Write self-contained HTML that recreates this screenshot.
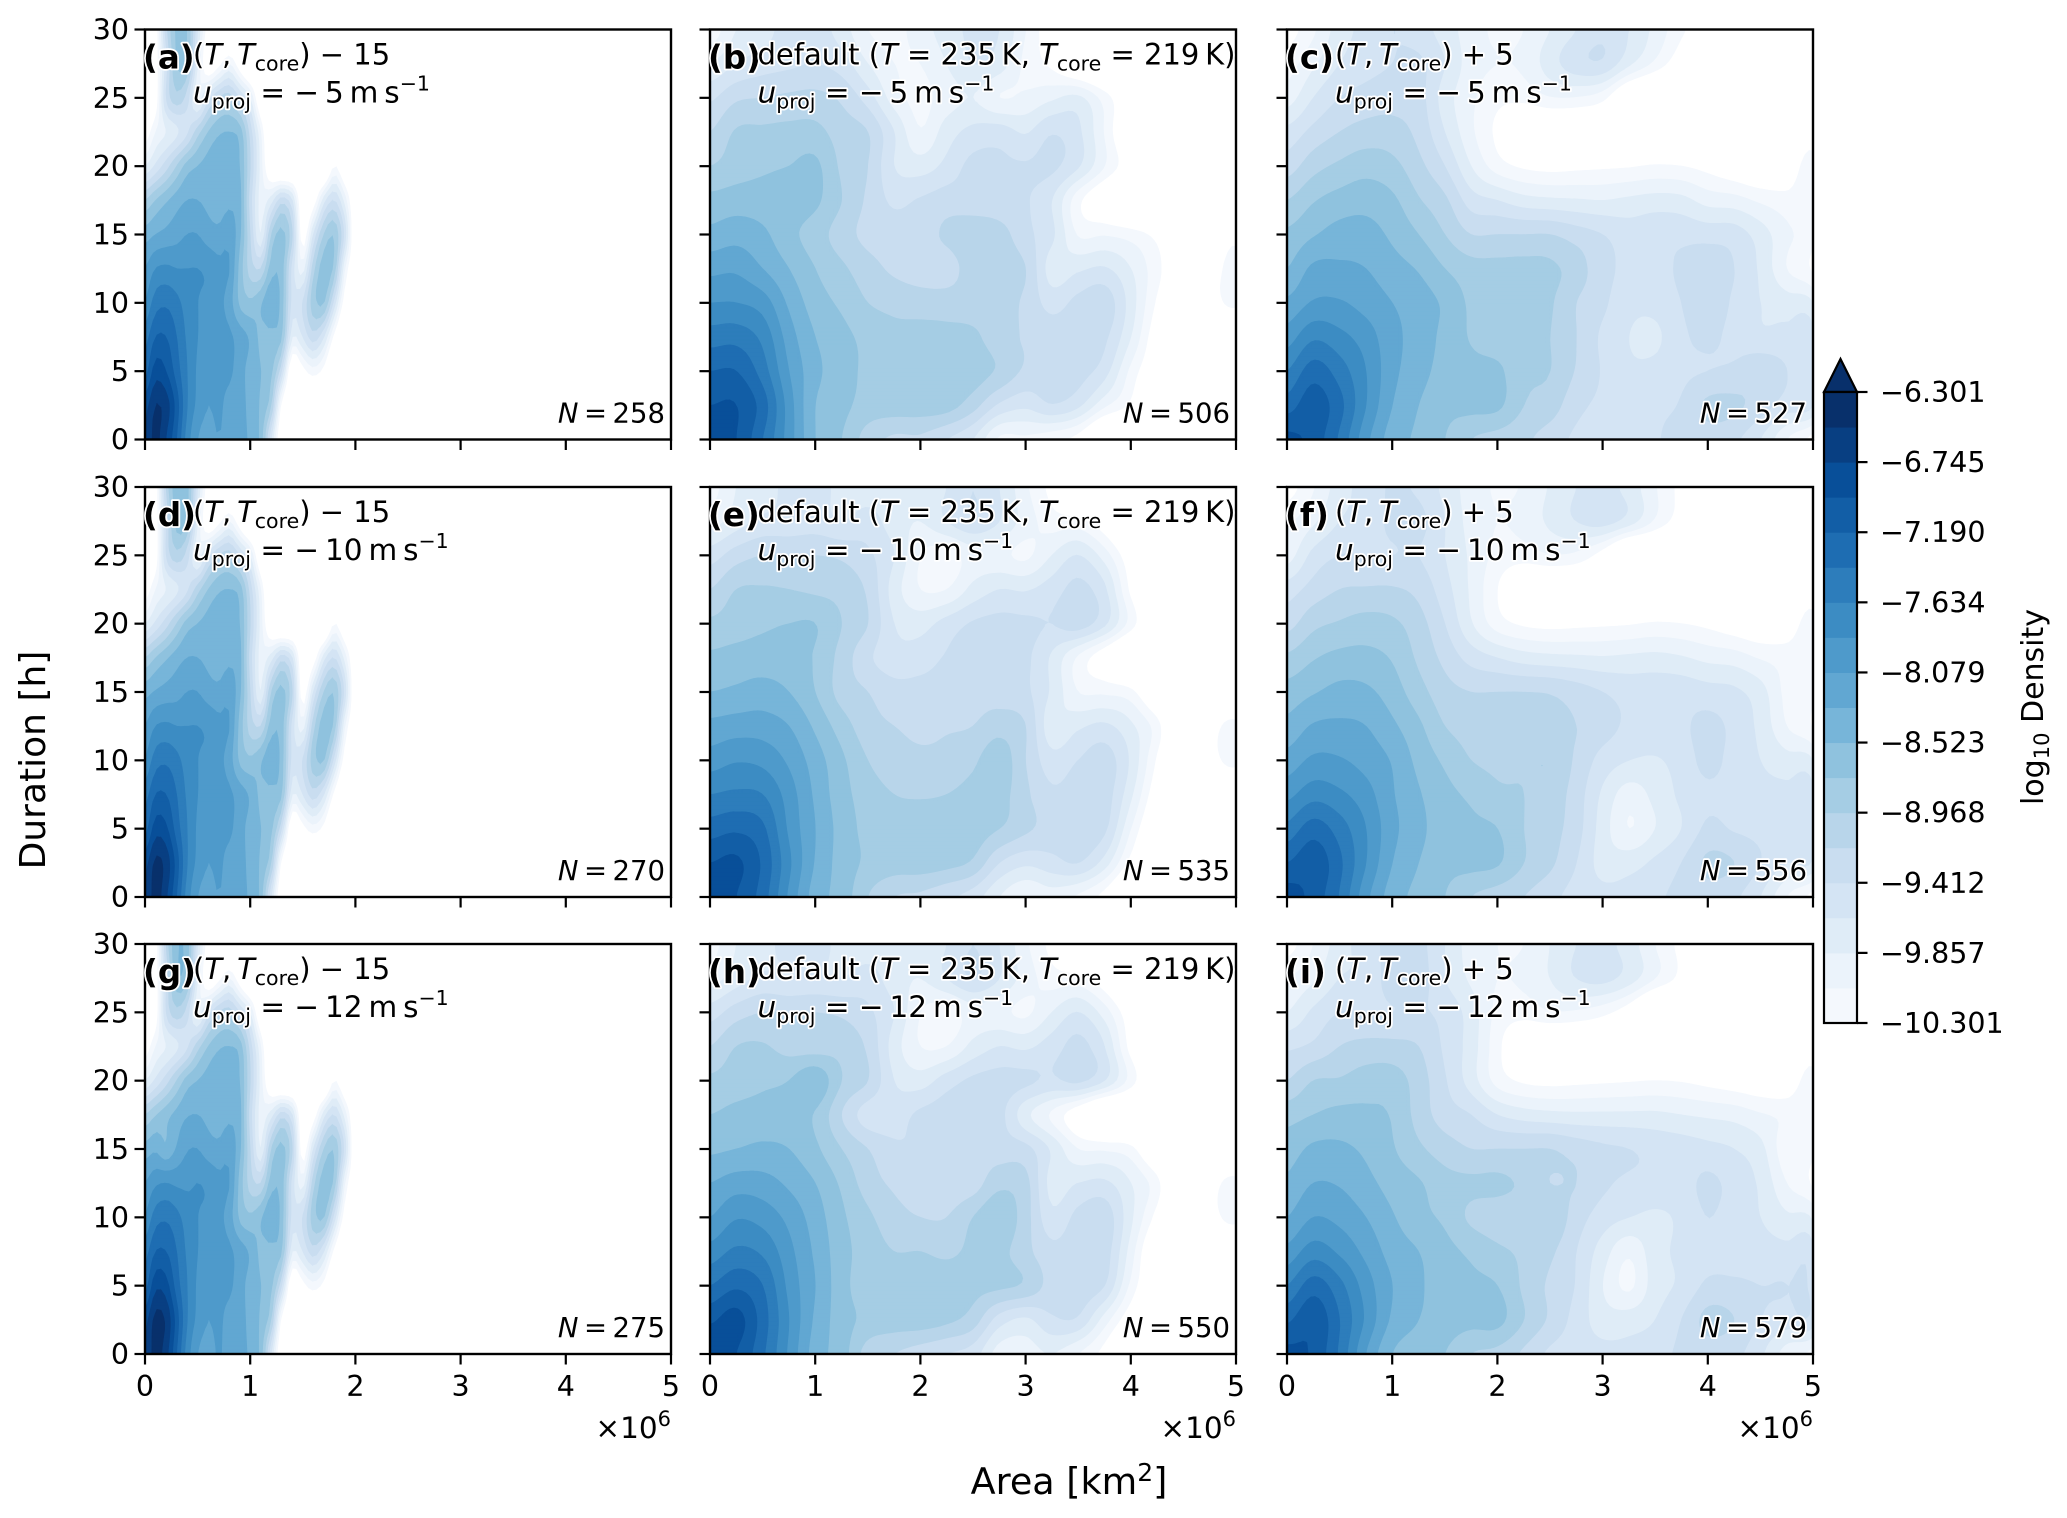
<!DOCTYPE html>
<html lang="en">
<head>
<meta charset="utf-8">
<title>Density of duration vs area</title>
<style>
html,body{margin:0;padding:0;background:#fff}
svg{display:block;font-family:"DejaVu Sans","Liberation Sans",sans-serif;fill:#000}
.halo{paint-order:stroke;stroke:#fff;stroke-width:3.5px;stroke-linejoin:round}
</style>
</head>
<body>
<svg id="figure" xmlns="http://www.w3.org/2000/svg" width="2067" height="1518" viewBox="0 0 2067 1518">
<rect width="2067" height="1518" fill="#fff"/>
<text transform="translate(45,760) rotate(-90)" text-anchor="middle" font-size="36">Duration [h]</text>
<text x="1069" y="1494" text-anchor="middle" font-size="36.5">Area [km<tspan font-size="25" dy="-13">2</tspan><tspan dy="13">]</tspan></text>
<text transform="translate(2043,707) rotate(-90)" text-anchor="middle" font-size="30">log<tspan font-size="21" dy="6">10</tspan><tspan dy="-6"> Density</tspan></text>
</svg>
<script>
// Tick labels and categories
const areaTicks = [0, 1, 2, 3, 4, 5];
const durationTicks = [0, 5, 10, 15, 20, 25, 30];
const colorbarTicks = ['−10.301', '−9.857', '−9.412', '−8.968', '−8.523', '−8.079', '−7.634', '−7.190', '−6.745', '−6.301'];
const bandColors = ['#f4f8fd','#ebf3fb','#dfecf7','#d4e4f4','#c9ddf0','#b8d5ea','#a5cde4','#8fc2de','#77b5d9','#61a7d2','#4e9acb','#3c8cc3','#2d7dbb','#1e6db2','#125ea6','#084f99','#083f82','#08306b'];
const panelLetters = ['(a)','(b)','(c)','(d)','(e)','(f)','(g)','(h)','(i)'];
const panelCounts = [258, 506, 527, 270, 535, 556, 275, 550, 579];
const rowSpeeds = [5, 10, 12];

// Field values: density in contour-band units above log10 = -10.301.
// Each grid row is one duration (0, 2.5, ... 30 h), each entry one area step.
const gridAreaStepNarrow = 0.1;
const gridAreaStepWide = 0.25;
const gridDurationStep = 2.5;

const fieldA = [
[16,17.3,16,14,11.5,10,9.5,10,9.5,9.3,8.8,7.6,3,-2],
[15.5,17,16.5,14.5,12,10.7,10,10.2,9.6,9.3,8.7,7.8,6,-.5,-3],
[13.5,15.5,15,13.5,12,10.8,10.1,10.2,10.2,9.4,8.6,8,7.2,4,-2,-.5,.5,-.5],
[12.5,14,14,13,11.8,11,10.5,10.4,10.2,9.5,8.8,7.7,7.7,7,2,3,4.5,3,-.5],
[11,12.5,12.8,12.3,11.5,11,10.8,10.3,9.5,7.8,7.2,7.8,8.8,7.5,3.5,4,6.5,7,3.5,-1],
[10,11,11.2,11,11,11,10.8,10.3,10,7.6,5.5,5,7.5,7.5,3.5,1.5,5.5,7.5,6.5,1,-2],
[8.5,9,9.3,9.6,10,10,9.5,9.3,9.7,8.2,5,2,6,7.3,5,-1,3,6,6.8,3.5,-2],
[6,7,7.8,8.5,9,9,8.7,8.4,8.8,8.3,4.5,1.5,2.5,4.5,3,-2,-1,2.5,4,1.5,-2],
[2,3.2,4.5,6,7.4,8,8.4,8.6,8.9,8,5,1.5,-2,-3,-3,-3,-3,-3,0,-2],
[-1,1,2,2.8,3.8,5.5,7,7.8,8,7.5,4.5,1],
[-3,-1,4,5.6,4.5,1.5,3.5,5,5.5,4,2,-2],
[-3,-1,3.5,7,6.8,2,-1.5,-.5,1,-1],
[-3,-1,4.5,7.2,7,3,-1]
];
const fieldB = [
[15.5,15,13,10.5,8,7,5.5,4.8,4.8,4,3,.8,.8,.3,-.5],
[15,15,13.5,10.5,8,7.3,6.6,6.5,6.5,6.4,5.4,3.8,3.2,3.9,3.2,1.2,-.3],
[14,14,12.5,10,8.3,7.4,6.8,6.5,6.5,6.5,6.5,5.8,4.8,4.5,4.4,3.4,.7,-1.5],
[12.5,12.6,11.7,9.5,8,7.3,6.7,6.3,6.4,6.3,6.2,5.4,4.9,4.6,4.6,4.2,2,-1],
[11,11,10.5,8.8,7.5,6.8,6,5.7,5.5,5.5,5.5,5.4,4.8,3.6,4.3,4.6,2.5,-.2,-2,-1,.3],
[9.7,9.8,9,8,7,6.2,5.4,4.8,4.5,4.5,5.5,5.5,5,2.5,2.8,3.1,2,.3,-1.5,-1,.5],
[8.3,8.6,8.2,7.3,6.5,5.5,4.7,4.5,4.5,5.2,5.7,5.4,4.3,3.2,.9,.9,.5,-.4,-2,-2,-.5],
[7.3,7.5,7.5,7.5,7.2,6,4.8,3.8,4.1,4.5,4.4,4.3,4.1,3,.3,-1.5],
[6,6.5,6.8,7,7.2,5.8,5,3,2.5,3.3,4.3,4.2,4.1,4.2,3.1,1,-1],
[5,6.1,6.2,6.3,6.3,5.5,5,3,1.1,2.5,3.3,3.5,2.9,3.9,3.2,.9,-2],
[3.8,4.8,5,5.2,5.3,4.8,3.5,1.5,.7,1.5,2,1,1.2,1.8,2.2,.5,-1.5],
[2,3,3.5,3.8,4,3.5,2,1,1,2,3,2.5,.7,-.3,-2],
[.3,2,2.5,3.5,3.5,2.5,1,.7,1.5,2.5,3.2,3,1,-1]
];
const fieldC = [
[15.3,14.6,12.8,10.3,8.5,7.8,7,6,5.6,5.2,4.5,3.8,3.5,3.6,3.9,4.4,4.6,4.2,3,1,-.5],
[13.5,14.6,13.3,11,9,8,7.3,7.3,7.2,6,5.5,4.3,3.8,3.7,3.8,4.1,5.2,5.2,4.5,3.5,3],
[12,13.5,12.5,11,9.3,8.4,7.6,7.3,7.2,6.2,6,4.9,3.9,3.2,3.3,3.8,4,4.2,4.8,4,3],
[10.5,11.8,11.3,10.5,9.3,8.6,7.7,6.9,6.4,6.2,6,5,3.8,3,2.8,3.8,4.2,3.7,3.2,3.3,3.3],
[9.2,10.1,10.1,9.6,9,8.5,7.8,6.8,6.4,6.2,6.1,5,4.2,3.3,3.3,4,4.7,3.8,3,2.5,2],
[8,9.2,9.2,9,8.4,7.9,7,6.4,6.3,6.3,6.2,5.5,4.3,3.8,3.6,4.2,4.7,4,2.8,1,-.2],
[7.2,7.9,8.4,8.4,7.8,7,6,5,5,5,5,4.5,4,3.5,3.7,3.7,3.6,3.5,2.5,1.2,.3],
[6,6.9,7.4,7.6,7.2,6.1,5.2,3.5,3,2.4,2.2,2.1,2,2.2,2.4,2.3,1.6,1.4,.8,.4,.5],
[4.5,5.6,6.2,6.6,6.3,5.3,4,2,.5,-.2,-.4,-.3,-.2,-.1,.1,0,-.4,-1,-1.5,-1.2,.6],
[3.3,4.3,5,5.4,5.4,4.7,3,1.2,-.3,-2,-2,-2,-2,-2,-2,-2,-2,-2,-2,-2,-1],
[1.5,3,4,4.4,4.6,4.4,2.5,1.2,.3,.3,.9,.9,.3,-2],
[.5,1.8,3,3.6,4,4.2,3,1.5,1,1.2,2.5,3.6,3.8,2.2,.7,-1],
[-.5,.8,2.5,3.3,4,3.5,2.5,1.5,.8,1,2,3,3.8,3,1.7,.2,-1]
];
const fieldD = [
[16,17.4,16.2,14,11.5,10,9.5,10,9.5,9.3,8.8,7.6,3,-2],
[15.5,17.2,16.6,14.5,12,10.7,10,10.2,9.6,9.3,8.7,7.8,6,-.5,-3],
[13.5,15.5,15.2,13.5,12,10.8,10.1,10.2,10.2,9.4,8.6,8,7.2,4,-2,-.5,.5,-.5],
[12.5,14,14,13,11.8,11,10.5,10.4,10.2,9.5,8.8,7.7,7.7,7,2,3,4.5,3,-.5],
[11,12.5,12.8,12.3,11.5,11,10.8,10.3,9.5,7.8,7.2,7.8,8.7,7.5,3.5,4,6.5,7,3.5,-1],
[10,11,11.2,11,11,11,10.8,10.3,10,7.6,5.5,5,7.5,7.5,3.5,1.5,5.5,7.5,6.5,1,-2],
[8.6,9.1,9.4,9.6,10,10,9.5,9.3,9.7,8.2,5,2,6,7.3,5,-1,3,6,6.8,3.5,-2],
[6,7,7.8,8.5,9,9,8.7,8.4,8.8,8.3,4.5,1.5,2.5,4.5,3,-2,-1,2.5,4,1.5,-2],
[2,3.2,4.5,6,7.4,8,8.4,8.6,8.9,8,5,1.5,-2,-3,-3,-3,-3,-3,0,-2],
[-1,1,2,2.8,3.8,5.5,7,7.8,8,7.5,4.5,1],
[-3,-1,4,5.6,4.5,1.5,3.5,5,5.5,4,2,-2],
[-3,-1,4,7.4,7,2,-1.5,-.5,1,-1],
[-3,-1,5,7.6,7.4,3,-1]
];
const fieldE = [
[15.8,15,13.5,10.8,8.5,7.6,6,5,4.8,4.2,3.5,2,1,1.5,.8,-.5],
[15,15.2,13.8,11.2,8.9,7.6,6.8,6.5,6.5,6.3,5.8,4,3.2,3.6,4,2.5,-.5],
[13.5,13.8,13.2,10.8,9,7.6,6.7,6.5,6.5,6.5,6.5,6,5.2,4.6,4.6,4.2,1,-2],
[12,12.2,12,10.5,8.8,7.4,6.5,6,5.9,6,6.3,6.4,5.2,4.2,4.5,4.5,2.2,-1],
[10.5,10.9,10.7,9.8,8.5,7.2,6,5.4,5.2,5.3,5.8,6.6,5,3.4,4,4.5,2.8,-.2,-3,-1,.5],
[9.3,9.5,9.5,9,7.8,6.5,5.4,5,4.8,4.9,5,5.6,5,2.3,2.8,3.2,2.2,.4,-3,-1,.5],
[8,8.2,8.4,8,7,5.6,5,4.4,4.4,4.5,4.6,4.5,4.2,2.8,1,.8,.3,-2],
[7.2,7.4,7.5,7.4,6.9,5.6,4.2,3.4,3.5,4.1,4.4,4.4,4.2,2.8,.8,-1],
[6.2,6.5,6.8,7,7,6,5,3,2.6,3.4,4.1,4.3,4.2,4,4.5,3.2,.5,-2],
[5,6,6.1,6,5.8,5.6,4.8,2.5,1,1,2.3,3,2.9,3.5,4.3,3.2,-.3],
[3.5,4.5,5,5,5,4.8,4.2,3,1,.5,1.5,1.3,.8,2,3,1.5,-1],
[1.5,2.5,3.2,3.3,3.5,3,3.4,2.5,2,3,3.8,3,1.5,.5,.3,-1],
[.5,2,2.5,3.3,3.7,2.5,2.5,2.5,2.5,3,4,3,1.2,-.5]
];
const fieldF = [
[15.5,14.6,12.9,10.3,8.5,7.7,7,6,5.5,5,4.3,3.6,3.3,3.4,3.8,4.3,4.6,4.2,3,1,-.5],
[14,14.7,13.2,11,9,8,7.3,7.3,7.1,6,5.2,4,2.6,2.6,3.2,4,5.2,5,4,3,2.8],
[12.3,13.5,12.5,11,9.3,8.3,7.4,7.2,7,6,5.4,4.4,2.5,1,2,3,4.2,3.9,3.7,3.6,3.3],
[10.7,11.6,11.2,10.4,9.1,8.1,7.3,6.8,6.2,6,5.6,4.5,2.8,1.5,2.3,3.2,3.8,3.6,3.3,3.3,3.3],
[9.4,10.2,10.1,9.6,8.9,7.7,6.8,6,5.8,5.9,5.9,4.8,3.6,3,2.9,3.4,4.3,3.6,3,2.4,2],
[8.3,9.1,9.2,9,8.2,7.2,6,5.6,5.6,5.6,5.2,5,4.4,3.8,3.6,3.8,4.3,3.7,2.7,1,-.1],
[7.4,7.9,8.3,8.2,7.5,6.4,5.4,5,5,5,4.9,4.5,4,3.6,3.6,3.6,3.4,3.2,2.4,.7,.3],
[6.2,6.9,7.3,7.3,6.9,5.8,4.7,3.6,3,2.5,2.3,2.2,2.1,2.2,2.3,2.1,1.7,1.5,.9,.6,.6],
[4.6,5.7,6.1,6.4,6.2,5.4,4,2.1,.5,-.2,-.4,-.3,-.2,-.1,.1,0,-.3,-.8,-1.2,-1,.5],
[3.5,4.4,5,5.1,5.1,4.7,3.4,1.8,0,-1.8,-2,-2,-2,-2,-2,-2,-2,-2,-2,-2,-1],
[1.5,3.3,4,4,4,4,3,1.8,.7,.5,.9,.7,-.6,-3],
[.8,1.8,3,3.4,4.2,4.3,3,1.6,1,1.3,2.2,3,3.4,2.5,.8,-.8],
[-.5,.9,2.5,3.4,4.1,3.8,2.7,1.5,.9,1.1,2.1,3,3.4,2.6,1.1,-.5]
];
const fieldG = [
[16,17.4,16.4,14,11.5,10,9.5,10.1,9.5,9.3,8.8,7.6,3,-2],
[15.5,17.3,16.8,14.5,12,10.7,10,10.2,9.6,9.3,8.7,7.8,6,-.5,-3],
[13.5,15.7,15.4,13.5,12,10.8,10.1,10.2,10.2,9.4,8.6,8,7.2,4,-2,-.5,.5,-.5],
[12.5,14,14,13,11.8,11,10.5,10.4,10.2,9.5,8.8,7.7,7.7,7,2,3,4.5,3,-.5],
[11,12.5,12.8,12.3,11.5,11,10.8,10.3,9.5,7.8,7.2,7.8,8.8,7.5,3.5,4,6.5,7,3.5,-1],
[10,10.8,11,10.8,10.8,11,10.8,10.3,10,7.6,5.5,5,7.5,7.5,3.5,1.5,5.5,7.5,6.5,1,-2],
[8.4,8.8,8.2,9.1,9.9,10,9.5,9.3,9.7,8.2,5,2,6,7.3,5,-1,3,6,6.8,3.5,-2],
[6,6.9,7.6,8.3,8.9,9,8.7,8.4,8.8,8.3,4.5,1.5,2.5,4.5,3,-2,-1,2.5,4,1.5,-2],
[2,3.2,4.5,6,7.4,8,8.4,8.6,8.9,8,5,1.5,-2,-3,-3,-3,-3,-3,0,-2],
[-1,1,2,2.8,3.8,5.5,7,7.8,8,7.5,4.5,1],
[-3,-1,4,5.6,4.5,1.5,3.5,5,5.5,4,2,-2],
[-3,-1,4,7.6,7.1,2,-1.5,-.5,1,-1],
[-3,-1,5,7.8,7.5,3,-1]
];
const fieldH = [
[16,15,13.2,10.8,8.5,7.5,5.5,5,4.5,4,3.5,1.5,1.5,2,1,-.5],
[14.8,15.4,13.5,11,8.8,7.5,6.7,6.5,6.5,6.2,5.5,3.5,2.8,3.8,3.8,1.5,-1],
[13,13.8,13,10.7,9,7.4,6.4,6.5,6.5,6.5,6.3,6.2,5.8,4.6,4.6,4,.7,-2],
[11.4,12.2,11.8,10.3,8.8,7.4,6.5,6,6,5.8,6.2,6.3,5.3,4.3,4.6,4.5,1.5,-2],
[10,10.9,10.6,9.7,8.5,7.2,6.2,5.4,5,5,6,6.8,5.4,3.3,4.3,4.6,2.2,-.5,-3,-1,.5],
[9,9.5,9.4,8.8,8,6.8,5.5,4.8,4.4,4.3,4.5,5.7,5.3,2.6,3,3.2,2,.3,-3,-1,.5],
[7.8,8,8.2,8,7.2,6,5,4.2,4.1,4.3,4.5,4.5,4.3,2.8,1,.8,.3,-2],
[7,7.3,7.4,7.3,6.9,5,3.5,3.5,4.2,4.5,4.5,4.3,2.3,.8,-1],
[6.2,6.5,6.8,7,7.8,6,5,3,2.5,3.5,4.2,4.4,4.2,3.8,4.2,3,.5,-2],
[5,6,6.1,5.6,5.5,5.6,4.8,2.5,1,1,2.3,3,2.8,3.5,4.3,3,-.5],
[3.5,4.5,5,5,5,4.8,4.2,3,1,.5,1.5,1.3,.8,2,3,1.5,-1],
[1.5,2.5,3.2,3,3.2,3,3.4,2.5,2,3,4,3,1.5,.5,.3,-1],
[.5,2,2.5,3.5,3.7,2.5,2.5,2.5,2.5,3,4,3,1.2,-.5]
];
const fieldI = [
[15.3,14.8,12.8,10,8,7.5,7,6,5.7,4.8,3.8,3.5,3.3,3.3,3.6,4.2,4.5,4.3,3.2,1.5,.5],
[13.8,14.8,13,10.8,8.8,8,7.5,7.3,7.3,6,4.8,3.6,2.5,2.5,3,4,5.3,5,4,3.5,3.5],
[12,13.5,12.3,10.5,9,8.2,7.3,7.2,7,5.8,4.8,3.9,2,.8,2.5,3.2,4.2,4.2,4,4,3.5],
[10.3,11.5,10.8,9.7,8.6,8,7.3,6.8,6.2,5.8,5.2,4,2.5,1.2,2.6,3.2,3.6,3.5,3.4,3.3,3.3],
[9,10,9.7,9,8.1,7.3,6.8,5.8,5.5,5.5,5.8,4.5,3.5,3,2.8,3.2,4,3.5,3,2.2,1.8],
[8.2,9,8.9,8.3,7.6,7.1,6.4,6.2,6.2,5.8,5,5,4.2,3.8,3.7,3.6,4.2,3.6,2.8,1,-.2],
[7.5,8.2,8.2,7.8,7.1,6.2,5.5,5,5,5,5,4.6,4.2,4,3.7,3.5,3.3,3,2.3,.3,.2],
[6.6,7,7.3,7.2,6.9,5.6,4.5,4,3,2.5,2.3,2.2,2.2,2.2,2.2,2,1.8,1.6,1.1,.8,.7],
[5,6,6.1,6.5,6.5,5.5,4.1,2.5,.6,-.2,-.4,-.3,-.2,-.1,0,-.1,-.4,-.7,-1,-1.1,.5],
[3.8,4.2,5,5.3,5.3,5,3.8,2.5,.3,-1.5,-2,-2,-2,-2,-2,-2,-2,-2,-2,-2,-1],
[2,3.2,4,4,4,4.1,3.7,2.5,.7,.4,.9,.8,.3,-.8],
[1,1.8,3,3.2,4.5,4.5,3,1.8,1,1.2,2,3,3.3,2.5,1,-.5],
[-.5,1,2.5,3.5,4.3,4.3,3,1.5,1,1,2,3,3.3,2.5,1,-.5]
];
const panelFields = [fieldA, fieldB, fieldC, fieldD, fieldE, fieldF, fieldG, fieldH, fieldI];

// Layout
const columnLefts = [145, 710, 1287];
const rowTops = [29.5, 487, 944];
const panelWidth = 526;
const panelHeight = 410;
const areaMax = 5;
const durationMax = 30;
const cellSize = 4;
const fieldFloor = -3;
const svgNS = 'http://www.w3.org/2000/svg';
const figure = document.getElementById('figure');

function make(tag, attrs, parent) {
  const el = document.createElementNS(svgNS, tag);
  for (const key in attrs) el.setAttribute(key, attrs[key]);
  (parent || figure).appendChild(el);
  return el;
}

function xScale(area, left) { return left + area / areaMax * panelWidth; }
function yScale(duration, top) { return top + panelHeight - duration / durationMax * panelHeight; }

function gridValue(grid, col, row) {
  const r = grid[Math.max(0, Math.min(grid.length - 1, row))];
  const c = Math.max(0, col);
  return c < r.length ? r[c] : fieldFloor;
}
function spline(a, b, c, d, t) {
  return 0.5 * (2 * b + (c - a) * t + (2 * a - 5 * b + 4 * c - d) * t * t + (3 * b - a - 3 * c + d) * t * t * t);
}
function sampleField(grid, area, duration, step) {
  const u = area / step;
  const v = duration / gridDurationStep;
  const i = Math.floor(u);
  const j = Math.min(grid.length - 2, Math.floor(v));
  const tu = u - i;
  const tv = v - j;
  const rows = [];
  for (let m = -1; m <= 2; m++) {
    rows.push(spline(gridValue(grid, i - 1, j + m), gridValue(grid, i, j + m), gridValue(grid, i + 1, j + m), gridValue(grid, i + 2, j + m), tu));
  }
  return spline(rows[0], rows[1], rows[2], rows[3], tv);
}

function clipCell(corners, level) {
  const out = [];
  for (let n = 0; n < 4; n++) {
    const p = corners[n];
    const q = corners[(n + 1) % 4];
    if (p[2] >= level) out.push(p);
    if ((p[2] >= level) !== (q[2] >= level)) {
      const t = (level - p[2]) / (q[2] - p[2]);
      out.push([p[0] + t * (q[0] - p[0]), p[1] + t * (q[1] - p[1])]);
    }
  }
  return out;
}

function drawField(group, grid, left, top, step) {
  const nx = Math.ceil(panelWidth / cellSize);
  const ny = Math.ceil(panelHeight / cellSize);
  const dx = panelWidth / nx;
  const dy = panelHeight / ny;
  const values = [];
  for (let j = 0; j <= ny; j++) {
    const line = [];
    for (let i = 0; i <= nx; i++) {
      line.push(sampleField(grid, i / nx * areaMax, durationMax - j / ny * durationMax, step));
    }
    values.push(line);
  }
  for (let level = 0; level < bandColors.length; level++) {
    let d = '';
    for (let j = 0; j < ny; j++) {
      const y0 = top + j * dy;
      const y1 = y0 + dy;
      let runStart = -1;
      for (let i = 0; i <= nx; i++) {
        const full = i < nx && values[j][i] >= level && values[j][i + 1] >= level && values[j + 1][i] >= level && values[j + 1][i + 1] >= level;
        if (full) {
          if (runStart < 0) runStart = i;
          continue;
        }
        if (runStart >= 0) {
          d += 'M' + (left + runStart * dx).toFixed(1) + ' ' + y0.toFixed(1) + 'H' + (left + i * dx).toFixed(1) + 'V' + y1.toFixed(1) + 'H' + (left + runStart * dx).toFixed(1) + 'Z';
          runStart = -1;
        }
        if (i === nx) continue;
        const x0 = left + i * dx;
        const x1 = x0 + dx;
        const poly = clipCell([[x0, y0, values[j][i]], [x1, y0, values[j][i + 1]], [x1, y1, values[j + 1][i + 1]], [x0, y1, values[j + 1][i]]], level);
        if (poly.length > 2) {
          d += 'M' + poly.map(function (p) { return p[0].toFixed(1) + ' ' + p[1].toFixed(1); }).join('L') + 'Z';
        }
      }
    }
    if (!d) continue;
    const band = make('path', { d: d, fill: bandColors[level], stroke: bandColors[level], 'stroke-width': 0.7 }, group);
    
    
  }
}

function addTick(group, x1, y1, x2, y2) {
  const tick = make('line', { x1: x1, y1: y1, x2: x2, y2: y2, stroke: '#000', 'stroke-width': 2.2 }, group);
  
  
}

const ITALIC = 'font-style="italic"';
function tempMarkup() {
  return '(<tspan ' + ITALIC + '>T</tspan>,\u2009<tspan ' + ITALIC + '>T</tspan><tspan font-size="20.5" dy="6">core</tspan><tspan dy="-6">)</tspan>';
}
function speedMarkup(speed) {
  return '<tspan ' + ITALIC + '>u</tspan><tspan font-size="20.5" dy="6">proj</tspan><tspan dy="-6"> = −\u2009' + speed + '\u2009m\u2009s</tspan><tspan font-size="20.5" dy="-12">−1</tspan>';
}
const columnTitles = [
  tempMarkup() + ' − 15',
  'default (<tspan ' + ITALIC + '>T</tspan> = 235\u2009K, <tspan ' + ITALIC + '>T</tspan><tspan font-size="20.5" dy="6">core</tspan><tspan dy="-6"> = 219\u2009K)</tspan>',
  tempMarkup() + ' + 5'
];
const titleOffsets = [48, 47.5, 48];

function addText(parent, x, y, markup, size, extra) {
  const attrs = { x: x, y: y, 'font-size': size, class: 'halo' };
  for (const k in extra) attrs[k] = extra[k];
  const t = make('text', attrs, parent);
  t.innerHTML = markup;
  return t;
}

for (let r = 0; r < 3; r++) {
  for (let c = 0; c < 3; c++) {
    const idx = r * 3 + c;
    const left = columnLefts[c];
    const top = rowTops[r];
    const bottom = top + panelHeight;
    const right = left + panelWidth;
    const panel = make('g', {});
    
    

    drawField(panel, panelFields[idx], left, top, c === 0 ? gridAreaStepNarrow : gridAreaStepWide);

    const frame = make('rect', { x: left, y: top, width: panelWidth, height: panelHeight, fill: 'none', stroke: '#000', 'stroke-width': 2.4 }, panel);
    
    

    durationTicks.forEach(function (v) {
      const y = yScale(v, top);
      addTick(panel, left - 10.5, y, left, y);
      if (c === 0) {
        const label = make('text', { x: left - 16, y: y + 10, 'text-anchor': 'end', 'font-size': 28.5 }, panel);
        label.textContent = String(v);
        
        
      }
    });
    areaTicks.forEach(function (v) {
      const x = xScale(v, left);
      addTick(panel, x, bottom, x, bottom + 10.5);
      if (r === 2) {
        const label = make('text', { x: x, y: bottom + 42, 'text-anchor': 'middle', 'font-size': 28.5 }, panel);
        label.textContent = String(v);
        
        
      }
    });
    if (r === 2) {
      const scaleLabel = make('text', { x: right, y: bottom + 84, 'text-anchor': 'end', 'font-size': 29.5 }, panel);
      scaleLabel.innerHTML = '×10<tspan font-size="21" dy="-12">6</tspan>';
      
      
    }

    const letter = addText(panel, left - 2, top + 39, panelLetters[idx], 32.5, { 'font-weight': 'bold' });
    
    
    const title = addText(panel, left + titleOffsets[c], top + 35, columnTitles[c], 29, {});
    
    
    const speed = addText(panel, left + titleOffsets[c], top + 73, speedMarkup(rowSpeeds[r]), 29.5, {});
    
    
    const count = addText(panel, right - 6, bottom - 17, '<tspan ' + ITALIC + '>N</tspan>\u2009=\u2009' + panelCounts[idx], 27.5, { 'text-anchor': 'end' });
    
    
  }
}

// Colorbar
const cbLeft = 1824;
const cbWidth = 33;
const cbTop = 392;
const cbHeight = 631;
function cbY(band) { return cbTop + cbHeight - band / bandColors.length * cbHeight; }
const colorbar = make('g', {});


const arrow = make('polygon', { points: cbLeft + ',' + cbTop + ' ' + (cbLeft + cbWidth / 2) + ',359 ' + (cbLeft + cbWidth) + ',' + cbTop, fill: bandColors[17], stroke: '#000', 'stroke-width': 2.2 }, colorbar);


bandColors.forEach(function (color, k) {
  const swatch = make('rect', { x: cbLeft, y: cbY(k + 1), width: cbWidth, height: cbY(k) - cbY(k + 1) + 0.5, fill: color }, colorbar);
  
  
});
const cbFrame = make('rect', { x: cbLeft, y: cbTop, width: cbWidth, height: cbHeight, fill: 'none', stroke: '#000', 'stroke-width': 2.2 }, colorbar);


colorbarTicks.forEach(function (labelText, k) {
  const y = cbY(k * 2);
  addTick(colorbar, cbLeft + cbWidth, y, cbLeft + cbWidth + 10.5, y);
  const label = make('text', { x: 1880, y: y + 10, 'font-size': 28.5 }, colorbar);
  label.textContent = labelText;
  
  
});
</script>
</body>
</html>
